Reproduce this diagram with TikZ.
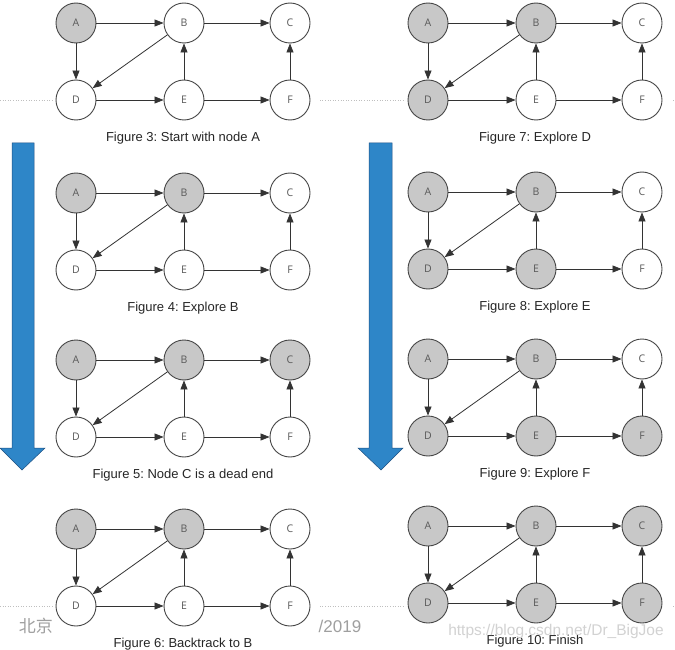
\documentclass[tikz,border=0pt]{standalone}
\usepackage{fontspec}
\setmainfont{Liberation Sans}
\newfontfamily\labelfont{Open Sans}
\newfontfamily\cjkfont{Noto Sans CJK SC}
\usetikzlibrary{arrows.meta}
\frenchspacing
\definecolor{visited}{RGB}{200,200,200}
\definecolor{ringgray}{RGB}{70,70,70}
\definecolor{arrowblue}{RGB}{46,134,200}
\definecolor{arrowrim}{RGB}{30,80,130}
\tikzset{
  vertex/.style={circle,draw=ringgray,line width=0.9pt,minimum size=40pt,inner sep=0pt,
    font=\labelfont\fontsize{10.5}{10.5}\selectfont,text=black!65},
  edge/.style={draw=black!80,line width=0.8pt,-{Triangle[length=9pt,width=7pt]}},
  caption/.style={font=\fontsize{13}{13}\selectfont,text=black!85},
  bigarrow/.style={fill=arrowblue,draw=arrowrim,line width=0.5pt}
}
\begin{document}
\begin{tikzpicture}[x=1pt,y=-1pt]
\useasboundingbox (0,0) rectangle (675,650);
\fill[white] (0,0) rectangle (675,650);
\draw[gray!50,dotted,line width=0.6pt] (0,100) -- (675,100);
\draw[gray!50,dotted,line width=0.6pt] (0,606) -- (675,606);

\foreach \n/\x/\y/\fa/\fb/\fc/\fd/\fe/\ff/\txt in {
  3/76/23/visited/white/white/white/white/white/{Figure 3: Start with node A},
  4/76/193/visited/visited/white/white/white/white/{Figure 4: Explore B},
  5/76/360/visited/visited/visited/white/white/white/{Figure 5: Node C is a dead end},
  6/76/529/visited/visited/white/white/white/white/{Figure 6: Backtrack to B},
  7/428/23/visited/visited/white/visited/white/white/{Figure 7: Explore D},
  8/428/192/visited/visited/white/visited/visited/white/{Figure 8: Explore E},
  9/428/359/visited/visited/white/visited/visited/visited/{Figure 9: Explore F},
  10/428/526/visited/visited/visited/visited/visited/visited/{Figure 10: Finish}}{
\begin{scope}[shift={(\x,\y)}]
\fill[white] (-22,-23) rectangle (244,124);
\node[vertex,fill=\fa] (A\n) at (0,0) {A};
\node[vertex,fill=\fb] (B\n) at (108,0) {B};
\node[vertex,fill=\fc] (C\n) at (214,0) {C};
\node[vertex,fill=\fd] (D\n) at (0,77) {D};
\node[vertex,fill=\fe] (E\n) at (108,77) {E};
\node[vertex,fill=\ff] (F\n) at (214,77) {F};
\draw[edge] (A\n) -- (B\n);
\draw[edge] (B\n) -- (C\n);
\draw[edge] (A\n) -- (D\n);
\draw[edge] (B\n) -- (D\n);
\draw[edge] (D\n) -- (E\n);
\draw[edge] (E\n) -- (F\n);
\draw[edge] (E\n) -- (B\n);
\draw[edge] (F\n) -- (C\n);
\node[caption] (cap\n) at (107,115) {\txt};
\end{scope}
}

% order arrows
\draw[bigarrow] (12,143) -- (34,143) -- (34,448) -- (45,448) -- (22,470) -- (0,448) -- (12,448) -- cycle;
\draw[bigarrow] (369,143) -- (392,143) -- (392,448) -- (403,448) -- (381,470) -- (358,448) -- (369,448) -- cycle;

\node[text=gray!75,font=\cjkfont\fontsize{17}{17}\selectfont] (city) at (36,626) {北京};
\node[text=gray!75,font=\fontsize{17}{17}\selectfont] (year) at (340,626) {/2019};
\node[text=gray!35,font=\fontsize{15.5}{15.5}\selectfont] (mark) at (556,631) {https://blog.csdn.net/Dr\_BigJoe};
\end{tikzpicture}
\end{document}
